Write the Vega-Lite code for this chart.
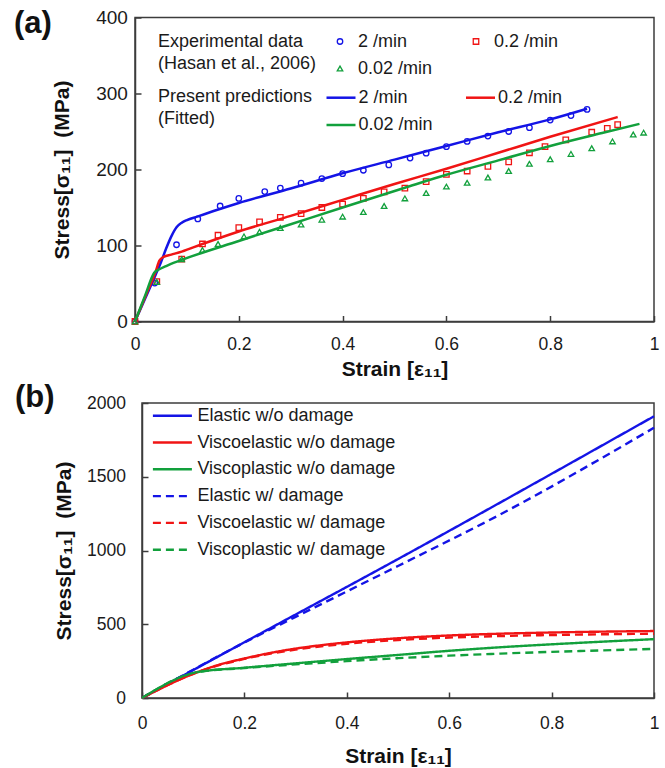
{
  "$schema": "https://vega.github.io/schema/vega-lite/v6.json",
  "background": "white",
  "padding": {"left": 13, "top": 6.5, "right": 0, "bottom": 0},
  "config": {
    "font": "Liberation Sans",
    "view": {"stroke": "#3c3c3c", "strokeWidth": 1.5},
    "axis": {"grid": false, "domainColor": "#3c3c3c", "domainWidth": 1.5, "tickColor": "#3c3c3c", "tickWidth": 1.5, "tickSize": -6, "labelColor": "#1a1a1a", "labelFont": "Liberation Sans", "labelFontSize": 17.5, "titleFont": "Liberation Sans", "titleFontSize": 21, "titleFontWeight": "bold", "titleColor": "#111111", "labelOverlap": false, "labelFlush": false},
    "legend": {"padding": 0, "labelFont": "Liberation Sans", "labelFontSize": 18, "labelColor": "#1a1a1a", "titleFont": "Liberation Sans", "titleFontSize": 18, "titleFontWeight": "normal", "titleColor": "#1a1a1a", "titleLineHeight": 22, "labelLimit": 400, "titleLimit": 400},
    "title": {"font": "Liberation Sans", "fontSize": 31, "fontWeight": "bold", "color": "#111111", "anchor": "start", "frame": "group"}
  },
  "spacing": -0.5,
  "resolve": {"scale": {"color": "independent", "shape": "independent", "strokeDash": "independent"}, "legend": {"color": "independent", "shape": "independent", "strokeDash": "independent"}},
  "datasets": {
    "expA": [
      {"strain": 0, "stress": 0, "rate": "2 /min"},
      {"strain": 0.038, "stress": 50.5, "rate": "2 /min"},
      {"strain": 0.08, "stress": 101, "rate": "2 /min"},
      {"strain": 0.121, "stress": 135, "rate": "2 /min"},
      {"strain": 0.164, "stress": 152, "rate": "2 /min"},
      {"strain": 0.2, "stress": 162, "rate": "2 /min"},
      {"strain": 0.25, "stress": 171, "rate": "2 /min"},
      {"strain": 0.28, "stress": 175.5, "rate": "2 /min"},
      {"strain": 0.32, "stress": 182, "rate": "2 /min"},
      {"strain": 0.36, "stress": 188, "rate": "2 /min"},
      {"strain": 0.4, "stress": 194.5, "rate": "2 /min"},
      {"strain": 0.44, "stress": 199, "rate": "2 /min"},
      {"strain": 0.489, "stress": 206, "rate": "2 /min"},
      {"strain": 0.53, "stress": 215, "rate": "2 /min"},
      {"strain": 0.561, "stress": 221.5, "rate": "2 /min"},
      {"strain": 0.6, "stress": 230, "rate": "2 /min"},
      {"strain": 0.64, "stress": 237, "rate": "2 /min"},
      {"strain": 0.68, "stress": 244, "rate": "2 /min"},
      {"strain": 0.72, "stress": 250, "rate": "2 /min"},
      {"strain": 0.76, "stress": 255, "rate": "2 /min"},
      {"strain": 0.8, "stress": 265, "rate": "2 /min"},
      {"strain": 0.84, "stress": 271, "rate": "2 /min"},
      {"strain": 0.871, "stress": 279, "rate": "2 /min"},
      {"strain": 0, "stress": 0, "rate": "0.2 /min"},
      {"strain": 0.042, "stress": 52.5, "rate": "0.2 /min"},
      {"strain": 0.09, "stress": 82, "rate": "0.2 /min"},
      {"strain": 0.13, "stress": 102, "rate": "0.2 /min"},
      {"strain": 0.16, "stress": 113.5, "rate": "0.2 /min"},
      {"strain": 0.2, "stress": 123.5, "rate": "0.2 /min"},
      {"strain": 0.24, "stress": 131, "rate": "0.2 /min"},
      {"strain": 0.28, "stress": 137, "rate": "0.2 /min"},
      {"strain": 0.32, "stress": 142, "rate": "0.2 /min"},
      {"strain": 0.36, "stress": 150, "rate": "0.2 /min"},
      {"strain": 0.4, "stress": 154.5, "rate": "0.2 /min"},
      {"strain": 0.44, "stress": 162, "rate": "0.2 /min"},
      {"strain": 0.48, "stress": 170.5, "rate": "0.2 /min"},
      {"strain": 0.52, "stress": 175.5, "rate": "0.2 /min"},
      {"strain": 0.561, "stress": 184, "rate": "0.2 /min"},
      {"strain": 0.6, "stress": 193.5, "rate": "0.2 /min"},
      {"strain": 0.64, "stress": 198, "rate": "0.2 /min"},
      {"strain": 0.68, "stress": 204, "rate": "0.2 /min"},
      {"strain": 0.72, "stress": 210, "rate": "0.2 /min"},
      {"strain": 0.76, "stress": 222, "rate": "0.2 /min"},
      {"strain": 0.79, "stress": 230, "rate": "0.2 /min"},
      {"strain": 0.83, "stress": 239, "rate": "0.2 /min"},
      {"strain": 0.88, "stress": 249, "rate": "0.2 /min"},
      {"strain": 0.91, "stress": 254, "rate": "0.2 /min"},
      {"strain": 0.93, "stress": 259, "rate": "0.2 /min"},
      {"strain": 0, "stress": 0, "rate": "0.02 /min"},
      {"strain": 0.042, "stress": 52, "rate": "0.02 /min"},
      {"strain": 0.09, "stress": 82, "rate": "0.02 /min"},
      {"strain": 0.13, "stress": 94, "rate": "0.02 /min"},
      {"strain": 0.16, "stress": 102, "rate": "0.02 /min"},
      {"strain": 0.21, "stress": 112, "rate": "0.02 /min"},
      {"strain": 0.24, "stress": 118, "rate": "0.02 /min"},
      {"strain": 0.28, "stress": 123, "rate": "0.02 /min"},
      {"strain": 0.32, "stress": 127.5, "rate": "0.02 /min"},
      {"strain": 0.36, "stress": 134, "rate": "0.02 /min"},
      {"strain": 0.4, "stress": 138, "rate": "0.02 /min"},
      {"strain": 0.44, "stress": 144, "rate": "0.02 /min"},
      {"strain": 0.48, "stress": 152, "rate": "0.02 /min"},
      {"strain": 0.52, "stress": 162, "rate": "0.02 /min"},
      {"strain": 0.561, "stress": 169, "rate": "0.02 /min"},
      {"strain": 0.6, "stress": 177.5, "rate": "0.02 /min"},
      {"strain": 0.64, "stress": 182.5, "rate": "0.02 /min"},
      {"strain": 0.68, "stress": 189.5, "rate": "0.02 /min"},
      {"strain": 0.72, "stress": 198, "rate": "0.02 /min"},
      {"strain": 0.76, "stress": 207.5, "rate": "0.02 /min"},
      {"strain": 0.8, "stress": 213.5, "rate": "0.02 /min"},
      {"strain": 0.84, "stress": 220.5, "rate": "0.02 /min"},
      {"strain": 0.88, "stress": 228, "rate": "0.02 /min"},
      {"strain": 0.92, "stress": 237, "rate": "0.02 /min"},
      {"strain": 0.96, "stress": 246, "rate": "0.02 /min"},
      {"strain": 0.98, "stress": 248.5, "rate": "0.02 /min"}
    ],
    "predA": [
      {"strain": 0, "stress": 0, "rate": "2 /min"},
      {"strain": 0.02, "stress": 31, "rate": "2 /min"},
      {"strain": 0.04, "stress": 62, "rate": "2 /min"},
      {"strain": 0.05, "stress": 78, "rate": "2 /min"},
      {"strain": 0.06, "stress": 96, "rate": "2 /min"},
      {"strain": 0.07, "stress": 112, "rate": "2 /min"},
      {"strain": 0.08, "stress": 124, "rate": "2 /min"},
      {"strain": 0.09, "stress": 130, "rate": "2 /min"},
      {"strain": 0.1, "stress": 133.5, "rate": "2 /min"},
      {"strain": 0.12, "stress": 138, "rate": "2 /min"},
      {"strain": 0.15, "stress": 145, "rate": "2 /min"},
      {"strain": 0.2, "stress": 156, "rate": "2 /min"},
      {"strain": 0.3, "stress": 175, "rate": "2 /min"},
      {"strain": 0.4, "stress": 195, "rate": "2 /min"},
      {"strain": 0.5, "stress": 213, "rate": "2 /min"},
      {"strain": 0.6, "stress": 231, "rate": "2 /min"},
      {"strain": 0.7, "stress": 249, "rate": "2 /min"},
      {"strain": 0.8, "stress": 266, "rate": "2 /min"},
      {"strain": 0.871, "stress": 280, "rate": "2 /min"},
      {"strain": 0, "stress": 0, "rate": "0.2 /min"},
      {"strain": 0.02, "stress": 33, "rate": "0.2 /min"},
      {"strain": 0.04, "stress": 66, "rate": "0.2 /min"},
      {"strain": 0.047, "stress": 80, "rate": "0.2 /min"},
      {"strain": 0.055, "stress": 85, "rate": "0.2 /min"},
      {"strain": 0.07, "stress": 88, "rate": "0.2 /min"},
      {"strain": 0.09, "stress": 92, "rate": "0.2 /min"},
      {"strain": 0.13, "stress": 102, "rate": "0.2 /min"},
      {"strain": 0.2, "stress": 118.5, "rate": "0.2 /min"},
      {"strain": 0.3, "stress": 139, "rate": "0.2 /min"},
      {"strain": 0.4, "stress": 160, "rate": "0.2 /min"},
      {"strain": 0.5, "stress": 181, "rate": "0.2 /min"},
      {"strain": 0.6, "stress": 201, "rate": "0.2 /min"},
      {"strain": 0.7, "stress": 222, "rate": "0.2 /min"},
      {"strain": 0.8, "stress": 243, "rate": "0.2 /min"},
      {"strain": 0.93, "stress": 269, "rate": "0.2 /min"},
      {"strain": 0, "stress": 0, "rate": "0.02 /min"},
      {"strain": 0.02, "stress": 35, "rate": "0.02 /min"},
      {"strain": 0.037, "stress": 64, "rate": "0.02 /min"},
      {"strain": 0.045, "stress": 68, "rate": "0.02 /min"},
      {"strain": 0.06, "stress": 73, "rate": "0.02 /min"},
      {"strain": 0.09, "stress": 81, "rate": "0.02 /min"},
      {"strain": 0.2, "stress": 106, "rate": "0.02 /min"},
      {"strain": 0.3, "stress": 128, "rate": "0.02 /min"},
      {"strain": 0.4, "stress": 150, "rate": "0.02 /min"},
      {"strain": 0.52, "stress": 176, "rate": "0.02 /min"},
      {"strain": 0.6, "stress": 193, "rate": "0.02 /min"},
      {"strain": 0.7, "stress": 212, "rate": "0.02 /min"},
      {"strain": 0.8, "stress": 231, "rate": "0.02 /min"},
      {"strain": 0.9, "stress": 248, "rate": "0.02 /min"},
      {"strain": 0.972, "stress": 260, "rate": "0.02 /min"}
    ],
    "predB": [
      {"strain": 0, "stress": 0, "series": "Elastic w/o damage"},
      {"strain": 0.2, "stress": 378, "series": "Elastic w/o damage"},
      {"strain": 0.5, "stress": 942, "series": "Elastic w/o damage"},
      {"strain": 1, "stress": 1910, "series": "Elastic w/o damage"},
      {"strain": 0, "stress": 0, "series": "Viscoelastic w/o damage"},
      {"strain": 0.109, "stress": 176, "series": "Viscoelastic w/o damage"},
      {"strain": 0.15, "stress": 225, "series": "Viscoelastic w/o damage"},
      {"strain": 0.2, "stress": 268, "series": "Viscoelastic w/o damage"},
      {"strain": 0.25, "stress": 305, "series": "Viscoelastic w/o damage"},
      {"strain": 0.3, "stress": 335, "series": "Viscoelastic w/o damage"},
      {"strain": 0.35, "stress": 358, "series": "Viscoelastic w/o damage"},
      {"strain": 0.4, "stress": 377, "series": "Viscoelastic w/o damage"},
      {"strain": 0.5, "stress": 405, "series": "Viscoelastic w/o damage"},
      {"strain": 0.6, "stress": 424, "series": "Viscoelastic w/o damage"},
      {"strain": 0.7, "stress": 436, "series": "Viscoelastic w/o damage"},
      {"strain": 0.8, "stress": 444, "series": "Viscoelastic w/o damage"},
      {"strain": 0.9, "stress": 450, "series": "Viscoelastic w/o damage"},
      {"strain": 1, "stress": 454, "series": "Viscoelastic w/o damage"},
      {"strain": 0, "stress": 0, "series": "Viscoplastic w/o damage"},
      {"strain": 0.109, "stress": 176, "series": "Viscoplastic w/o damage"},
      {"strain": 0.2, "stress": 205, "series": "Viscoplastic w/o damage"},
      {"strain": 0.3, "stress": 235, "series": "Viscoplastic w/o damage"},
      {"strain": 0.4, "stress": 264, "series": "Viscoplastic w/o damage"},
      {"strain": 0.5, "stress": 292, "series": "Viscoplastic w/o damage"},
      {"strain": 0.6, "stress": 320, "series": "Viscoplastic w/o damage"},
      {"strain": 0.7, "stress": 344, "series": "Viscoplastic w/o damage"},
      {"strain": 0.8, "stress": 364, "series": "Viscoplastic w/o damage"},
      {"strain": 0.9, "stress": 382, "series": "Viscoplastic w/o damage"},
      {"strain": 1, "stress": 399, "series": "Viscoplastic w/o damage"},
      {"strain": 0, "stress": 0, "series": "Elastic w/ damage"},
      {"strain": 0.2, "stress": 376, "series": "Elastic w/ damage"},
      {"strain": 0.3, "stress": 550, "series": "Elastic w/ damage"},
      {"strain": 0.5, "stress": 895, "series": "Elastic w/ damage"},
      {"strain": 0.7, "stress": 1245, "series": "Elastic w/ damage"},
      {"strain": 1, "stress": 1832, "series": "Elastic w/ damage"},
      {"strain": 0, "stress": 0, "series": "Viscoelastic w/ damage"},
      {"strain": 0.109, "stress": 176, "series": "Viscoelastic w/ damage"},
      {"strain": 0.2, "stress": 265, "series": "Viscoelastic w/ damage"},
      {"strain": 0.3, "stress": 328, "series": "Viscoelastic w/ damage"},
      {"strain": 0.4, "stress": 368, "series": "Viscoelastic w/ damage"},
      {"strain": 0.5, "stress": 393, "series": "Viscoelastic w/ damage"},
      {"strain": 0.6, "stress": 410, "series": "Viscoelastic w/ damage"},
      {"strain": 0.7, "stress": 420, "series": "Viscoelastic w/ damage"},
      {"strain": 0.8, "stress": 427, "series": "Viscoelastic w/ damage"},
      {"strain": 0.9, "stress": 432, "series": "Viscoelastic w/ damage"},
      {"strain": 1, "stress": 436, "series": "Viscoelastic w/ damage"},
      {"strain": 0, "stress": 0, "series": "Viscoplastic w/ damage"},
      {"strain": 0.109, "stress": 176, "series": "Viscoplastic w/ damage"},
      {"strain": 0.2, "stress": 203, "series": "Viscoplastic w/ damage"},
      {"strain": 0.3, "stress": 228, "series": "Viscoplastic w/ damage"},
      {"strain": 0.4, "stress": 250, "series": "Viscoplastic w/ damage"},
      {"strain": 0.5, "stress": 270, "series": "Viscoplastic w/ damage"},
      {"strain": 0.6, "stress": 287, "series": "Viscoplastic w/ damage"},
      {"strain": 0.7, "stress": 301, "series": "Viscoplastic w/ damage"},
      {"strain": 0.8, "stress": 313, "series": "Viscoplastic w/ damage"},
      {"strain": 0.9, "stress": 323, "series": "Viscoplastic w/ damage"},
      {"strain": 1, "stress": 333, "series": "Viscoplastic w/ damage"}
    ]
  },
  "vconcat": [
    {
      "resolve": {"scale": {"color": "independent", "shape": "independent"}, "legend": {"color": "independent", "shape": "independent"}},
      "hconcat": [
        {
          "width": 519,
          "height": 304,
          "title": {"text": "(a)", "dx": -121, "dy": 29.5, "offset": -2},
          "encoding": {
            "x": {"field": "strain", "type": "quantitative", "scale": {"domain": [0, 1], "nice": false},
                  "axis": {"title": "Strain [ε₁₁]", "values": [0, 0.2, 0.4, 0.6, 0.8, 1], "format": "~g", "labelPadding": 19.8, "titlePadding": 6}},
            "y": {"field": "stress", "type": "quantitative", "scale": {"domain": [0, 400], "nice": false},
                  "axis": {"title": "Stress[σ₁₁]\u00a0\u00a0(MPa)", "values": [0, 100, 200, 300, 400], "format": "d", "labelFontSize": 19, "labelPadding": 13.6, "titlePadding": 23}}
          },
          "layer": [
            {
              "data": {"name": "expA"},
              "mark": {"type": "point", "filled": false, "size": 30, "strokeWidth": 1.3, "opacity": 1},
              "encoding": {
                "color": {"field": "rate", "type": "nominal",
                  "scale": {"domain": ["2 /min", "0.2 /min", "0.02 /min"], "range": ["#1414e6", "#f01414", "#12a03c"]},
                  "legend": {"title": ["Experimental data", "(Hasan et al., 2006)"], "orient": "none", "legendX": 23, "legendY": 15, "direction": "horizontal", "titleOrient": "left", "titleAnchor": "start", "columns": 2, "symbolSize": 30, "symbolStrokeWidth": 1.3, "labelOffset": 9, "columnPadding": 34, "rowPadding": 9, "titlePadding": 14}},
                "shape": {"field": "rate", "type": "nominal",
                  "scale": {"domain": ["2 /min", "0.2 /min", "0.02 /min"], "range": ["circle", "square", "triangle-up"]},
                  "legend": {"title": ["Experimental data", "(Hasan et al., 2006)"], "orient": "none", "legendX": 23, "legendY": 15, "direction": "horizontal", "titleOrient": "left", "titleAnchor": "start", "columns": 2, "symbolSize": 30, "symbolStrokeWidth": 1.3, "labelOffset": 9, "columnPadding": 34, "rowPadding": 9, "titlePadding": 14}}
              }
            },
            {
              "data": {"name": "predA"},
              "mark": {"type": "line", "strokeWidth": 2.5, "interpolate": "monotone"},
              "encoding": {
                "color": {"field": "rate", "type": "nominal",
                  "scale": {"domain": ["2 /min", "0.2 /min", "0.02 /min"], "range": ["#1414e6", "#f01414", "#12a03c"]},
                  "legend": {"title": ["Present predictions", "(Fitted)"], "orient": "none", "legendX": 23, "legendY": 64.2, "direction": "horizontal", "titleOrient": "left", "titleAnchor": "middle", "columns": 2, "symbolType": "stroke", "symbolSize": 841, "symbolStrokeWidth": 2.5, "labelOffset": 1.5, "columnPadding": 27.5, "rowPadding": 2.3, "titlePadding": 12}}
              }
            }
          ],
          "resolve": {"scale": {"color": "independent", "shape": "independent"}, "legend": {"color": "independent", "shape": "independent"}}
        }
      ]
    },
    {
      "spacing": -123,
      "resolve": {"scale": {"color": "independent", "strokeDash": "independent"}, "legend": {"color": "independent", "strokeDash": "independent"}},
      "hconcat": [
        {
          "width": 1,
          "height": 1,
          "view": {"stroke": "transparent"},
          "data": {"values": []},
          "mark": "point",
          "encoding": {}
        },
        {
          "width": 512,
          "height": 295,
          "title": {"text": "(b)", "dx": -127, "dy": 27, "offset": 7.25},
          "data": {"name": "predB"},
          "mark": {"type": "line", "strokeWidth": 2.4, "interpolate": "monotone"},
          "encoding": {
            "x": {"field": "strain", "type": "quantitative", "scale": {"domain": [0, 1], "nice": false},
                  "axis": {"title": "Strain [ε₁₁]", "values": [0, 0.2, 0.4, 0.6, 0.8, 1], "format": "~g", "labelPadding": 22.2, "titlePadding": 13.3}},
            "y": {"field": "stress", "type": "quantitative", "scale": {"domain": [0, 2000], "nice": false},
                  "axis": {"title": "Stress[σ₁₁]\u00a0\u00a0(MPa)", "values": [0, 500, 1000, 1500, 2000], "format": "d", "labelPadding": 22.6, "titlePadding": 11.5}},
            "color": {"field": "series", "type": "nominal",
              "scale": {"domain": ["Elastic w/o damage", "Viscoelastic w/o damage", "Viscoplastic w/o damage", "Elastic w/ damage", "Viscoelastic w/ damage", "Viscoplastic w/ damage"],
                        "range": ["#1414e6", "#f01414", "#12a03c", "#1414e6", "#f01414", "#12a03c"]},
              "legend": {"title": null, "orient": "none", "legendX": 9.4, "legendY": 0.7, "symbolType": "stroke", "symbolSize": 1521, "symbolStrokeWidth": 2.4, "labelOffset": 4, "clipHeight": 24, "rowPadding": 2.8}},
            "strokeDash": {"field": "series", "type": "nominal",
              "scale": {"domain": ["Elastic w/o damage", "Viscoelastic w/o damage", "Viscoplastic w/o damage", "Elastic w/ damage", "Viscoelastic w/ damage", "Viscoplastic w/ damage"],
                        "range": [[1, 0], [1, 0], [1, 0], [8, 5], [8, 5], [8, 5]]},
              "legend": {"title": null, "orient": "none", "legendX": 9.4, "legendY": 0.7, "symbolType": "stroke", "symbolSize": 1521, "symbolStrokeWidth": 2.4, "labelOffset": 4, "clipHeight": 24, "rowPadding": 2.8}}
          }
        }
      ]
    }
  ]
}
